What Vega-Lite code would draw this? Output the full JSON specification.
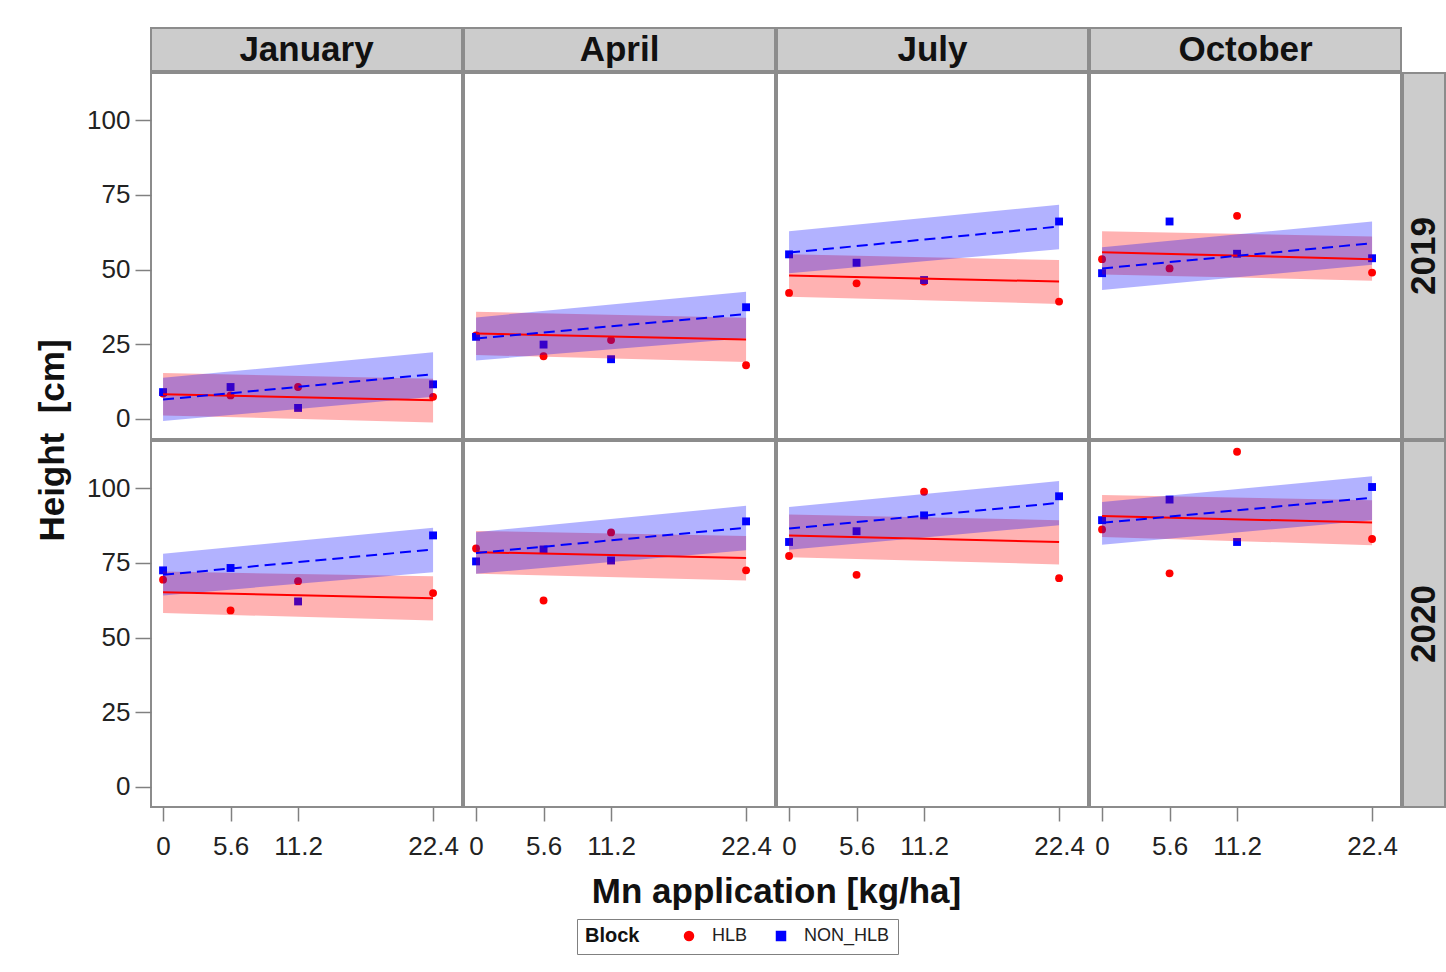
{
  "$schema": "https://vega.github.io/schema/vega-lite/v6.json",
  "background": "white",
  "padding": {"left": 34, "top": 27, "right": 0, "bottom": 3},
  "config": {
    "font": "Liberation Sans",
    "axis": {
      "grid": false,
      "domain": false,
      "tickColor": "#808080",
      "tickWidth": 1.5,
      "labelColor": "#222222",
      "labelFontSize": 26,
      "labelFontWeight": "normal",
      "titleColor": "#111111",
      "titleFontSize": 35,
      "titleFontWeight": "bold",
      "labelOverlap": false,
      "labelFlush": false,
      "labelBound": false
    },
    "legend": {
      "titleOrient": "left",
      "titleFontSize": 20,
      "titleFontWeight": "bold",
      "titleColor": "#111111",
      "titlePadding": 40,
      "labelFontSize": 18,
      "labelColor": "#222222",
      "labelOffset": 14,
      "columnPadding": 24,
      "symbolSize": 110,
      "strokeColor": "#808080",
      "padding": 8
    }
  },
  "datasets": {
    "strips": [
      {"label": "January"}, {"label": "April"}, {"label": "July"}, {"label": "October"},
      {"label": "2019"}, {"label": "2020"}
    ],
    "rows": [
      {"year": 2019, "month": "January", "kind": "obs", "block": "HLB", "mn": 0, "height": 8.5},
      {"year": 2019, "month": "January", "kind": "obs", "block": "HLB", "mn": 5.6, "height": 7.9},
      {"year": 2019, "month": "January", "kind": "obs", "block": "HLB", "mn": 11.2, "height": 10.7},
      {"year": 2019, "month": "January", "kind": "obs", "block": "HLB", "mn": 22.4, "height": 7.4},
      {"year": 2019, "month": "January", "kind": "obs", "block": "NON_HLB", "mn": 0, "height": 9.0},
      {"year": 2019, "month": "January", "kind": "obs", "block": "NON_HLB", "mn": 5.6, "height": 10.7},
      {"year": 2019, "month": "January", "kind": "obs", "block": "NON_HLB", "mn": 11.2, "height": 3.7},
      {"year": 2019, "month": "January", "kind": "obs", "block": "NON_HLB", "mn": 22.4, "height": 11.6},
      {"year": 2019, "month": "April", "kind": "obs", "block": "HLB", "mn": 0, "height": 28.0},
      {"year": 2019, "month": "April", "kind": "obs", "block": "HLB", "mn": 5.6, "height": 21.0},
      {"year": 2019, "month": "April", "kind": "obs", "block": "HLB", "mn": 11.2, "height": 26.4},
      {"year": 2019, "month": "April", "kind": "obs", "block": "HLB", "mn": 22.4, "height": 18.0},
      {"year": 2019, "month": "April", "kind": "obs", "block": "NON_HLB", "mn": 0, "height": 27.5},
      {"year": 2019, "month": "April", "kind": "obs", "block": "NON_HLB", "mn": 5.6, "height": 24.9},
      {"year": 2019, "month": "April", "kind": "obs", "block": "NON_HLB", "mn": 11.2, "height": 20.0},
      {"year": 2019, "month": "April", "kind": "obs", "block": "NON_HLB", "mn": 22.4, "height": 37.4},
      {"year": 2019, "month": "July", "kind": "obs", "block": "HLB", "mn": 0, "height": 42.2},
      {"year": 2019, "month": "July", "kind": "obs", "block": "HLB", "mn": 5.6, "height": 45.4},
      {"year": 2019, "month": "July", "kind": "obs", "block": "HLB", "mn": 11.2, "height": 46.0},
      {"year": 2019, "month": "July", "kind": "obs", "block": "HLB", "mn": 22.4, "height": 39.3},
      {"year": 2019, "month": "July", "kind": "obs", "block": "NON_HLB", "mn": 0, "height": 55.1},
      {"year": 2019, "month": "July", "kind": "obs", "block": "NON_HLB", "mn": 5.6, "height": 52.3},
      {"year": 2019, "month": "July", "kind": "obs", "block": "NON_HLB", "mn": 11.2, "height": 46.5},
      {"year": 2019, "month": "July", "kind": "obs", "block": "NON_HLB", "mn": 22.4, "height": 66.1},
      {"year": 2019, "month": "October", "kind": "obs", "block": "HLB", "mn": 0, "height": 53.5},
      {"year": 2019, "month": "October", "kind": "obs", "block": "HLB", "mn": 5.6, "height": 50.4},
      {"year": 2019, "month": "October", "kind": "obs", "block": "HLB", "mn": 11.2, "height": 68.0},
      {"year": 2019, "month": "October", "kind": "obs", "block": "HLB", "mn": 22.4, "height": 49.0},
      {"year": 2019, "month": "October", "kind": "obs", "block": "NON_HLB", "mn": 0, "height": 48.8},
      {"year": 2019, "month": "October", "kind": "obs", "block": "NON_HLB", "mn": 5.6, "height": 66.1},
      {"year": 2019, "month": "October", "kind": "obs", "block": "NON_HLB", "mn": 11.2, "height": 55.3},
      {"year": 2019, "month": "October", "kind": "obs", "block": "NON_HLB", "mn": 22.4, "height": 53.8},
      {"year": 2020, "month": "January", "kind": "obs", "block": "HLB", "mn": 0, "height": 69.4},
      {"year": 2020, "month": "January", "kind": "obs", "block": "HLB", "mn": 5.6, "height": 59.1},
      {"year": 2020, "month": "January", "kind": "obs", "block": "HLB", "mn": 11.2, "height": 68.9},
      {"year": 2020, "month": "January", "kind": "obs", "block": "HLB", "mn": 22.4, "height": 64.9},
      {"year": 2020, "month": "January", "kind": "obs", "block": "NON_HLB", "mn": 0, "height": 72.5},
      {"year": 2020, "month": "January", "kind": "obs", "block": "NON_HLB", "mn": 5.6, "height": 73.3},
      {"year": 2020, "month": "January", "kind": "obs", "block": "NON_HLB", "mn": 11.2, "height": 62.1},
      {"year": 2020, "month": "January", "kind": "obs", "block": "NON_HLB", "mn": 22.4, "height": 84.2},
      {"year": 2020, "month": "April", "kind": "obs", "block": "HLB", "mn": 0, "height": 79.8},
      {"year": 2020, "month": "April", "kind": "obs", "block": "HLB", "mn": 5.6, "height": 62.4},
      {"year": 2020, "month": "April", "kind": "obs", "block": "HLB", "mn": 11.2, "height": 85.2},
      {"year": 2020, "month": "April", "kind": "obs", "block": "HLB", "mn": 22.4, "height": 72.5},
      {"year": 2020, "month": "April", "kind": "obs", "block": "NON_HLB", "mn": 0, "height": 75.5},
      {"year": 2020, "month": "April", "kind": "obs", "block": "NON_HLB", "mn": 5.6, "height": 79.5},
      {"year": 2020, "month": "April", "kind": "obs", "block": "NON_HLB", "mn": 11.2, "height": 75.8},
      {"year": 2020, "month": "April", "kind": "obs", "block": "NON_HLB", "mn": 22.4, "height": 88.9},
      {"year": 2020, "month": "July", "kind": "obs", "block": "HLB", "mn": 0, "height": 77.3},
      {"year": 2020, "month": "July", "kind": "obs", "block": "HLB", "mn": 5.6, "height": 71.0},
      {"year": 2020, "month": "July", "kind": "obs", "block": "HLB", "mn": 11.2, "height": 98.8},
      {"year": 2020, "month": "July", "kind": "obs", "block": "HLB", "mn": 22.4, "height": 69.9},
      {"year": 2020, "month": "July", "kind": "obs", "block": "NON_HLB", "mn": 0, "height": 82.0},
      {"year": 2020, "month": "July", "kind": "obs", "block": "NON_HLB", "mn": 5.6, "height": 85.6},
      {"year": 2020, "month": "July", "kind": "obs", "block": "NON_HLB", "mn": 11.2, "height": 90.9},
      {"year": 2020, "month": "July", "kind": "obs", "block": "NON_HLB", "mn": 22.4, "height": 97.3},
      {"year": 2020, "month": "October", "kind": "obs", "block": "HLB", "mn": 0, "height": 86.2},
      {"year": 2020, "month": "October", "kind": "obs", "block": "HLB", "mn": 5.6, "height": 71.5},
      {"year": 2020, "month": "October", "kind": "obs", "block": "HLB", "mn": 11.2, "height": 112.2},
      {"year": 2020, "month": "October", "kind": "obs", "block": "HLB", "mn": 22.4, "height": 83.0},
      {"year": 2020, "month": "October", "kind": "obs", "block": "NON_HLB", "mn": 0, "height": 89.3},
      {"year": 2020, "month": "October", "kind": "obs", "block": "NON_HLB", "mn": 5.6, "height": 96.2},
      {"year": 2020, "month": "October", "kind": "obs", "block": "NON_HLB", "mn": 11.2, "height": 82.0},
      {"year": 2020, "month": "October", "kind": "obs", "block": "NON_HLB", "mn": 22.4, "height": 100.4},

      {"year": 2019, "month": "January", "kind": "fit", "block": "HLB", "mn": 0, "height": 8.3, "lower": 1.2, "upper": 15.4},
      {"year": 2019, "month": "January", "kind": "fit", "block": "HLB", "mn": 22.4, "height": 6.3, "lower": -1.2, "upper": 13.5},
      {"year": 2019, "month": "January", "kind": "fit", "block": "NON_HLB", "mn": 0, "height": 6.5, "lower": -0.7, "upper": 13.8},
      {"year": 2019, "month": "January", "kind": "fit", "block": "NON_HLB", "mn": 22.4, "height": 15.0, "lower": 7.4, "upper": 22.3},
      {"year": 2019, "month": "April", "kind": "fit", "block": "HLB", "mn": 0, "height": 28.6, "lower": 21.4, "upper": 35.9},
      {"year": 2019, "month": "April", "kind": "fit", "block": "HLB", "mn": 22.4, "height": 26.6, "lower": 19.1, "upper": 33.9},
      {"year": 2019, "month": "April", "kind": "fit", "block": "NON_HLB", "mn": 0, "height": 26.9, "lower": 19.6, "upper": 34.0},
      {"year": 2019, "month": "April", "kind": "fit", "block": "NON_HLB", "mn": 22.4, "height": 35.1, "lower": 27.0, "upper": 42.6},
      {"year": 2019, "month": "July", "kind": "fit", "block": "HLB", "mn": 0, "height": 48.0, "lower": 40.9, "upper": 55.1},
      {"year": 2019, "month": "July", "kind": "fit", "block": "HLB", "mn": 22.4, "height": 46.0, "lower": 38.5, "upper": 53.2},
      {"year": 2019, "month": "July", "kind": "fit", "block": "NON_HLB", "mn": 0, "height": 55.7, "lower": 48.8, "upper": 62.8},
      {"year": 2019, "month": "July", "kind": "fit", "block": "NON_HLB", "mn": 22.4, "height": 64.4, "lower": 56.8, "upper": 71.7},
      {"year": 2019, "month": "October", "kind": "fit", "block": "HLB", "mn": 0, "height": 55.8, "lower": 48.4, "upper": 62.8},
      {"year": 2019, "month": "October", "kind": "fit", "block": "HLB", "mn": 22.4, "height": 53.5, "lower": 46.3, "upper": 61.1},
      {"year": 2019, "month": "October", "kind": "fit", "block": "NON_HLB", "mn": 0, "height": 50.4, "lower": 43.2, "upper": 57.5},
      {"year": 2019, "month": "October", "kind": "fit", "block": "NON_HLB", "mn": 22.4, "height": 58.8, "lower": 51.6, "upper": 66.1},
      {"year": 2020, "month": "January", "kind": "fit", "block": "HLB", "mn": 0, "height": 65.2, "lower": 58.2, "upper": 72.1},
      {"year": 2020, "month": "January", "kind": "fit", "block": "HLB", "mn": 22.4, "height": 63.2, "lower": 55.7, "upper": 70.5},
      {"year": 2020, "month": "January", "kind": "fit", "block": "NON_HLB", "mn": 0, "height": 71.0, "lower": 64.1, "upper": 78.1},
      {"year": 2020, "month": "January", "kind": "fit", "block": "NON_HLB", "mn": 22.4, "height": 79.5, "lower": 71.9, "upper": 86.8},
      {"year": 2020, "month": "April", "kind": "fit", "block": "HLB", "mn": 0, "height": 78.6, "lower": 71.4, "upper": 85.7},
      {"year": 2020, "month": "April", "kind": "fit", "block": "HLB", "mn": 22.4, "height": 76.6, "lower": 69.1, "upper": 84.0},
      {"year": 2020, "month": "April", "kind": "fit", "block": "NON_HLB", "mn": 0, "height": 78.3, "lower": 71.4, "upper": 85.3},
      {"year": 2020, "month": "April", "kind": "fit", "block": "NON_HLB", "mn": 22.4, "height": 86.8, "lower": 79.2, "upper": 94.1},
      {"year": 2020, "month": "July", "kind": "fit", "block": "HLB", "mn": 0, "height": 84.2, "lower": 76.9, "upper": 91.2},
      {"year": 2020, "month": "July", "kind": "fit", "block": "HLB", "mn": 22.4, "height": 82.0, "lower": 74.5, "upper": 89.3},
      {"year": 2020, "month": "July", "kind": "fit", "block": "NON_HLB", "mn": 0, "height": 86.5, "lower": 79.4, "upper": 93.7},
      {"year": 2020, "month": "July", "kind": "fit", "block": "NON_HLB", "mn": 22.4, "height": 95.1, "lower": 87.6, "upper": 102.4},
      {"year": 2020, "month": "October", "kind": "fit", "block": "HLB", "mn": 0, "height": 90.7, "lower": 83.7, "upper": 97.7},
      {"year": 2020, "month": "October", "kind": "fit", "block": "HLB", "mn": 22.4, "height": 88.5, "lower": 80.9, "upper": 96.0},
      {"year": 2020, "month": "October", "kind": "fit", "block": "NON_HLB", "mn": 0, "height": 88.4, "lower": 81.1, "upper": 95.4},
      {"year": 2020, "month": "October", "kind": "fit", "block": "NON_HLB", "mn": 22.4, "height": 96.8, "lower": 89.3, "upper": 104.0}
    ]
  },
  "columns": 5,
  "spacing": {"row": 2, "column": 2},
  "bounds": "flush",
  "concat": [
    {"width": 311, "height": 43, "data": {"name": "strips"}, "transform": [{"filter": "datum.label == 'January'"}], "view": {"fill": "#cccccc", "stroke": "#8c8c8c", "strokeWidth": 2}, "mark": {"type": "text", "fontSize": 35, "fontWeight": "bold", "color": "#111111"}, "encoding": {"text": {"field": "label"}}},
    {"width": 311, "height": 43, "data": {"name": "strips"}, "transform": [{"filter": "datum.label == 'April'"}], "view": {"fill": "#cccccc", "stroke": "#8c8c8c", "strokeWidth": 2}, "mark": {"type": "text", "fontSize": 35, "fontWeight": "bold", "color": "#111111"}, "encoding": {"text": {"field": "label"}}},
    {"width": 311, "height": 43, "data": {"name": "strips"}, "transform": [{"filter": "datum.label == 'July'"}], "view": {"fill": "#cccccc", "stroke": "#8c8c8c", "strokeWidth": 2}, "mark": {"type": "text", "fontSize": 35, "fontWeight": "bold", "color": "#111111"}, "encoding": {"text": {"field": "label"}}},
    {"width": 311, "height": 43, "data": {"name": "strips"}, "transform": [{"filter": "datum.label == 'October'"}], "view": {"fill": "#cccccc", "stroke": "#8c8c8c", "strokeWidth": 2}, "mark": {"type": "text", "fontSize": 35, "fontWeight": "bold", "color": "#111111"}, "encoding": {"text": {"field": "label"}}},
    {"width": 42, "height": 43, "data": {"values": []}, "view": {"stroke": null}, "mark": "text"},

    {"width": 311, "height": 366, "view": {"stroke": "#8c8c8c", "strokeWidth": 2},
     "data": {"name": "rows"}, "transform": [{"filter": "datum.year == 2019 && datum.month == 'January'"}],
     "encoding": {
       "x": {"field": "mn", "type": "quantitative", "scale": {"domain": [-1, 24.8], "nice": false, "zero": false}, "axis": null},
       "y": {"field": "height", "type": "quantitative", "scale": {"domain": [-6.7, 115.8], "nice": false, "zero": false}, "axis": {"values": [0, 25, 50, 75, 100], "tickSize": 16, "labelPadding": 5, "title": "Height\u00a0 [cm]", "titleY": 367, "titlePadding": 16}}
     },
     "layer": [
       {"transform": [{"filter": "datum.kind == 'obs'"}], "mark": {"type": "point", "filled": true, "opacity": 1, "size": 62},
        "encoding": {
          "color": {"field": "block", "type": "nominal", "scale": {"domain": ["HLB", "NON_HLB"], "range": ["#ff0000", "#0000ff"]}, "legend": {"title": "Block", "orient": "none", "legendX": 426, "legendY": 891, "direction": "horizontal", "encode": {"symbols": {"update": {"size": {"value": 120}}}}}},
          "shape": {"field": "block", "type": "nominal", "scale": {"domain": ["HLB", "NON_HLB"], "range": ["circle", "square"]}, "legend": {"title": "Block", "orient": "none", "legendX": 426, "legendY": 891, "direction": "horizontal", "encode": {"symbols": {"update": {"size": {"value": 120}}}}}}}},
       {"transform": [{"filter": "datum.kind == 'fit' && datum.block == 'HLB'"}], "mark": {"type": "area", "color": "#ff0000", "opacity": 0.3}, "encoding": {"y": {"field": "lower", "type": "quantitative", "scale": {"domain": [-6.7, 115.8], "nice": false, "zero": false}, "axis": {"values": [0, 25, 50, 75, 100], "tickSize": 16, "labelPadding": 5, "title": "Height\u00a0 [cm]", "titleY": 367, "titlePadding": 16}}, "y2": {"field": "upper"}}},
       {"transform": [{"filter": "datum.kind == 'fit' && datum.block == 'NON_HLB'"}], "mark": {"type": "area", "color": "#0000ff", "opacity": 0.3}, "encoding": {"y": {"field": "lower", "type": "quantitative", "scale": {"domain": [-6.7, 115.8], "nice": false, "zero": false}, "axis": {"values": [0, 25, 50, 75, 100], "tickSize": 16, "labelPadding": 5, "title": "Height\u00a0 [cm]", "titleY": 367, "titlePadding": 16}}, "y2": {"field": "upper"}}},
       {"transform": [{"filter": "datum.kind == 'fit' && datum.block == 'HLB'"}], "mark": {"type": "line", "color": "#ff0000", "strokeWidth": 2}},
       {"transform": [{"filter": "datum.kind == 'fit' && datum.block == 'NON_HLB'"}], "mark": {"type": "line", "color": "#0000ff", "strokeWidth": 2, "strokeDash": [11, 6]}}
     ]},
    {"width": 311, "height": 366, "view": {"stroke": "#8c8c8c", "strokeWidth": 2},
     "data": {"name": "rows"}, "transform": [{"filter": "datum.year == 2019 && datum.month == 'April'"}],
     "encoding": {
       "x": {"field": "mn", "type": "quantitative", "scale": {"domain": [-1, 24.8], "nice": false, "zero": false}, "axis": null},
       "y": {"field": "height", "type": "quantitative", "scale": {"domain": [-6.7, 115.8], "nice": false, "zero": false}, "axis": null}
     },
     "layer": [
       {"transform": [{"filter": "datum.kind == 'obs'"}], "mark": {"type": "point", "filled": true, "opacity": 1, "size": 62},
        "encoding": {
          "color": {"field": "block", "type": "nominal", "scale": {"domain": ["HLB", "NON_HLB"], "range": ["#ff0000", "#0000ff"]}, "legend": {"title": "Block", "orient": "none", "legendX": 426, "legendY": 891, "direction": "horizontal", "encode": {"symbols": {"update": {"size": {"value": 120}}}}}},
          "shape": {"field": "block", "type": "nominal", "scale": {"domain": ["HLB", "NON_HLB"], "range": ["circle", "square"]}, "legend": {"title": "Block", "orient": "none", "legendX": 426, "legendY": 891, "direction": "horizontal", "encode": {"symbols": {"update": {"size": {"value": 120}}}}}}}},
       {"transform": [{"filter": "datum.kind == 'fit' && datum.block == 'HLB'"}], "mark": {"type": "area", "color": "#ff0000", "opacity": 0.3}, "encoding": {"y": {"field": "lower", "type": "quantitative", "scale": {"domain": [-6.7, 115.8], "nice": false, "zero": false}, "axis": null}, "y2": {"field": "upper"}}},
       {"transform": [{"filter": "datum.kind == 'fit' && datum.block == 'NON_HLB'"}], "mark": {"type": "area", "color": "#0000ff", "opacity": 0.3}, "encoding": {"y": {"field": "lower", "type": "quantitative", "scale": {"domain": [-6.7, 115.8], "nice": false, "zero": false}, "axis": null}, "y2": {"field": "upper"}}},
       {"transform": [{"filter": "datum.kind == 'fit' && datum.block == 'HLB'"}], "mark": {"type": "line", "color": "#ff0000", "strokeWidth": 2}},
       {"transform": [{"filter": "datum.kind == 'fit' && datum.block == 'NON_HLB'"}], "mark": {"type": "line", "color": "#0000ff", "strokeWidth": 2, "strokeDash": [11, 6]}}
     ]},
    {"width": 311, "height": 366, "view": {"stroke": "#8c8c8c", "strokeWidth": 2},
     "data": {"name": "rows"}, "transform": [{"filter": "datum.year == 2019 && datum.month == 'July'"}],
     "encoding": {
       "x": {"field": "mn", "type": "quantitative", "scale": {"domain": [-1, 24.8], "nice": false, "zero": false}, "axis": null},
       "y": {"field": "height", "type": "quantitative", "scale": {"domain": [-6.7, 115.8], "nice": false, "zero": false}, "axis": null}
     },
     "layer": [
       {"transform": [{"filter": "datum.kind == 'obs'"}], "mark": {"type": "point", "filled": true, "opacity": 1, "size": 62},
        "encoding": {
          "color": {"field": "block", "type": "nominal", "scale": {"domain": ["HLB", "NON_HLB"], "range": ["#ff0000", "#0000ff"]}, "legend": {"title": "Block", "orient": "none", "legendX": 426, "legendY": 891, "direction": "horizontal", "encode": {"symbols": {"update": {"size": {"value": 120}}}}}},
          "shape": {"field": "block", "type": "nominal", "scale": {"domain": ["HLB", "NON_HLB"], "range": ["circle", "square"]}, "legend": {"title": "Block", "orient": "none", "legendX": 426, "legendY": 891, "direction": "horizontal", "encode": {"symbols": {"update": {"size": {"value": 120}}}}}}}},
       {"transform": [{"filter": "datum.kind == 'fit' && datum.block == 'HLB'"}], "mark": {"type": "area", "color": "#ff0000", "opacity": 0.3}, "encoding": {"y": {"field": "lower", "type": "quantitative", "scale": {"domain": [-6.7, 115.8], "nice": false, "zero": false}, "axis": null}, "y2": {"field": "upper"}}},
       {"transform": [{"filter": "datum.kind == 'fit' && datum.block == 'NON_HLB'"}], "mark": {"type": "area", "color": "#0000ff", "opacity": 0.3}, "encoding": {"y": {"field": "lower", "type": "quantitative", "scale": {"domain": [-6.7, 115.8], "nice": false, "zero": false}, "axis": null}, "y2": {"field": "upper"}}},
       {"transform": [{"filter": "datum.kind == 'fit' && datum.block == 'HLB'"}], "mark": {"type": "line", "color": "#ff0000", "strokeWidth": 2}},
       {"transform": [{"filter": "datum.kind == 'fit' && datum.block == 'NON_HLB'"}], "mark": {"type": "line", "color": "#0000ff", "strokeWidth": 2, "strokeDash": [11, 6]}}
     ]},
    {"width": 311, "height": 366, "view": {"stroke": "#8c8c8c", "strokeWidth": 2},
     "data": {"name": "rows"}, "transform": [{"filter": "datum.year == 2019 && datum.month == 'October'"}],
     "encoding": {
       "x": {"field": "mn", "type": "quantitative", "scale": {"domain": [-1, 24.8], "nice": false, "zero": false}, "axis": null},
       "y": {"field": "height", "type": "quantitative", "scale": {"domain": [-6.7, 115.8], "nice": false, "zero": false}, "axis": null}
     },
     "layer": [
       {"transform": [{"filter": "datum.kind == 'obs'"}], "mark": {"type": "point", "filled": true, "opacity": 1, "size": 62},
        "encoding": {
          "color": {"field": "block", "type": "nominal", "scale": {"domain": ["HLB", "NON_HLB"], "range": ["#ff0000", "#0000ff"]}, "legend": {"title": "Block", "orient": "none", "legendX": 426, "legendY": 891, "direction": "horizontal", "encode": {"symbols": {"update": {"size": {"value": 120}}}}}},
          "shape": {"field": "block", "type": "nominal", "scale": {"domain": ["HLB", "NON_HLB"], "range": ["circle", "square"]}, "legend": {"title": "Block", "orient": "none", "legendX": 426, "legendY": 891, "direction": "horizontal", "encode": {"symbols": {"update": {"size": {"value": 120}}}}}}}},
       {"transform": [{"filter": "datum.kind == 'fit' && datum.block == 'HLB'"}], "mark": {"type": "area", "color": "#ff0000", "opacity": 0.3}, "encoding": {"y": {"field": "lower", "type": "quantitative", "scale": {"domain": [-6.7, 115.8], "nice": false, "zero": false}, "axis": null}, "y2": {"field": "upper"}}},
       {"transform": [{"filter": "datum.kind == 'fit' && datum.block == 'NON_HLB'"}], "mark": {"type": "area", "color": "#0000ff", "opacity": 0.3}, "encoding": {"y": {"field": "lower", "type": "quantitative", "scale": {"domain": [-6.7, 115.8], "nice": false, "zero": false}, "axis": null}, "y2": {"field": "upper"}}},
       {"transform": [{"filter": "datum.kind == 'fit' && datum.block == 'HLB'"}], "mark": {"type": "line", "color": "#ff0000", "strokeWidth": 2}},
       {"transform": [{"filter": "datum.kind == 'fit' && datum.block == 'NON_HLB'"}], "mark": {"type": "line", "color": "#0000ff", "strokeWidth": 2, "strokeDash": [11, 6]}}
     ]},
    {"width": 42, "height": 366, "data": {"name": "strips"}, "transform": [{"filter": "datum.label == '2019'"}], "view": {"fill": "#cccccc", "stroke": "#8c8c8c", "strokeWidth": 2}, "mark": {"type": "text", "angle": 270, "fontSize": 35, "fontWeight": "bold", "color": "#111111"}, "encoding": {"text": {"field": "label"}}},

    {"width": 311, "height": 366, "view": {"stroke": "#8c8c8c", "strokeWidth": 2},
     "data": {"name": "rows"}, "transform": [{"filter": "datum.year == 2020 && datum.month == 'January'"}],
     "encoding": {
       "x": {"field": "mn", "type": "quantitative", "scale": {"domain": [-1, 24.8], "nice": false, "zero": false}, "axis": {"values": [0, 5.6, 11.2, 22.4], "format": ".1~f", "tickSize": 14, "labelPadding": 12, "title": null}},
       "y": {"field": "height", "type": "quantitative", "scale": {"domain": [-6.7, 115.8], "nice": false, "zero": false}, "axis": {"values": [0, 25, 50, 75, 100], "tickSize": 16, "labelPadding": 5, "title": null}}
     },
     "layer": [
       {"transform": [{"filter": "datum.kind == 'obs'"}], "mark": {"type": "point", "filled": true, "opacity": 1, "size": 62},
        "encoding": {
          "color": {"field": "block", "type": "nominal", "scale": {"domain": ["HLB", "NON_HLB"], "range": ["#ff0000", "#0000ff"]}, "legend": {"title": "Block", "orient": "none", "legendX": 426, "legendY": 891, "direction": "horizontal", "encode": {"symbols": {"update": {"size": {"value": 120}}}}}},
          "shape": {"field": "block", "type": "nominal", "scale": {"domain": ["HLB", "NON_HLB"], "range": ["circle", "square"]}, "legend": {"title": "Block", "orient": "none", "legendX": 426, "legendY": 891, "direction": "horizontal", "encode": {"symbols": {"update": {"size": {"value": 120}}}}}}}},
       {"transform": [{"filter": "datum.kind == 'fit' && datum.block == 'HLB'"}], "mark": {"type": "area", "color": "#ff0000", "opacity": 0.3}, "encoding": {"y": {"field": "lower", "type": "quantitative", "scale": {"domain": [-6.7, 115.8], "nice": false, "zero": false}, "axis": {"values": [0, 25, 50, 75, 100], "tickSize": 16, "labelPadding": 5, "title": null}}, "y2": {"field": "upper"}}},
       {"transform": [{"filter": "datum.kind == 'fit' && datum.block == 'NON_HLB'"}], "mark": {"type": "area", "color": "#0000ff", "opacity": 0.3}, "encoding": {"y": {"field": "lower", "type": "quantitative", "scale": {"domain": [-6.7, 115.8], "nice": false, "zero": false}, "axis": {"values": [0, 25, 50, 75, 100], "tickSize": 16, "labelPadding": 5, "title": null}}, "y2": {"field": "upper"}}},
       {"transform": [{"filter": "datum.kind == 'fit' && datum.block == 'HLB'"}], "mark": {"type": "line", "color": "#ff0000", "strokeWidth": 2}},
       {"transform": [{"filter": "datum.kind == 'fit' && datum.block == 'NON_HLB'"}], "mark": {"type": "line", "color": "#0000ff", "strokeWidth": 2, "strokeDash": [11, 6]}}
     ]},
    {"width": 311, "height": 366, "view": {"stroke": "#8c8c8c", "strokeWidth": 2},
     "data": {"name": "rows"}, "transform": [{"filter": "datum.year == 2020 && datum.month == 'April'"}],
     "encoding": {
       "x": {"field": "mn", "type": "quantitative", "scale": {"domain": [-1, 24.8], "nice": false, "zero": false}, "axis": {"values": [0, 5.6, 11.2, 22.4], "format": ".1~f", "tickSize": 14, "labelPadding": 12, "title": "Mn application [kg/ha]", "titleX": 312, "titlePadding": 15}},
       "y": {"field": "height", "type": "quantitative", "scale": {"domain": [-6.7, 115.8], "nice": false, "zero": false}, "axis": null}
     },
     "layer": [
       {"transform": [{"filter": "datum.kind == 'obs'"}], "mark": {"type": "point", "filled": true, "opacity": 1, "size": 62},
        "encoding": {
          "color": {"field": "block", "type": "nominal", "scale": {"domain": ["HLB", "NON_HLB"], "range": ["#ff0000", "#0000ff"]}, "legend": {"title": "Block", "orient": "none", "legendX": 426, "legendY": 891, "direction": "horizontal", "encode": {"symbols": {"update": {"size": {"value": 120}}}}}},
          "shape": {"field": "block", "type": "nominal", "scale": {"domain": ["HLB", "NON_HLB"], "range": ["circle", "square"]}, "legend": {"title": "Block", "orient": "none", "legendX": 426, "legendY": 891, "direction": "horizontal", "encode": {"symbols": {"update": {"size": {"value": 120}}}}}}}},
       {"transform": [{"filter": "datum.kind == 'fit' && datum.block == 'HLB'"}], "mark": {"type": "area", "color": "#ff0000", "opacity": 0.3}, "encoding": {"y": {"field": "lower", "type": "quantitative", "scale": {"domain": [-6.7, 115.8], "nice": false, "zero": false}, "axis": null}, "y2": {"field": "upper"}}},
       {"transform": [{"filter": "datum.kind == 'fit' && datum.block == 'NON_HLB'"}], "mark": {"type": "area", "color": "#0000ff", "opacity": 0.3}, "encoding": {"y": {"field": "lower", "type": "quantitative", "scale": {"domain": [-6.7, 115.8], "nice": false, "zero": false}, "axis": null}, "y2": {"field": "upper"}}},
       {"transform": [{"filter": "datum.kind == 'fit' && datum.block == 'HLB'"}], "mark": {"type": "line", "color": "#ff0000", "strokeWidth": 2}},
       {"transform": [{"filter": "datum.kind == 'fit' && datum.block == 'NON_HLB'"}], "mark": {"type": "line", "color": "#0000ff", "strokeWidth": 2, "strokeDash": [11, 6]}}
     ]},
    {"width": 311, "height": 366, "view": {"stroke": "#8c8c8c", "strokeWidth": 2},
     "data": {"name": "rows"}, "transform": [{"filter": "datum.year == 2020 && datum.month == 'July'"}],
     "encoding": {
       "x": {"field": "mn", "type": "quantitative", "scale": {"domain": [-1, 24.8], "nice": false, "zero": false}, "axis": {"values": [0, 5.6, 11.2, 22.4], "format": ".1~f", "tickSize": 14, "labelPadding": 12, "title": null}},
       "y": {"field": "height", "type": "quantitative", "scale": {"domain": [-6.7, 115.8], "nice": false, "zero": false}, "axis": null}
     },
     "layer": [
       {"transform": [{"filter": "datum.kind == 'obs'"}], "mark": {"type": "point", "filled": true, "opacity": 1, "size": 62},
        "encoding": {
          "color": {"field": "block", "type": "nominal", "scale": {"domain": ["HLB", "NON_HLB"], "range": ["#ff0000", "#0000ff"]}, "legend": {"title": "Block", "orient": "none", "legendX": 426, "legendY": 891, "direction": "horizontal", "encode": {"symbols": {"update": {"size": {"value": 120}}}}}},
          "shape": {"field": "block", "type": "nominal", "scale": {"domain": ["HLB", "NON_HLB"], "range": ["circle", "square"]}, "legend": {"title": "Block", "orient": "none", "legendX": 426, "legendY": 891, "direction": "horizontal", "encode": {"symbols": {"update": {"size": {"value": 120}}}}}}}},
       {"transform": [{"filter": "datum.kind == 'fit' && datum.block == 'HLB'"}], "mark": {"type": "area", "color": "#ff0000", "opacity": 0.3}, "encoding": {"y": {"field": "lower", "type": "quantitative", "scale": {"domain": [-6.7, 115.8], "nice": false, "zero": false}, "axis": null}, "y2": {"field": "upper"}}},
       {"transform": [{"filter": "datum.kind == 'fit' && datum.block == 'NON_HLB'"}], "mark": {"type": "area", "color": "#0000ff", "opacity": 0.3}, "encoding": {"y": {"field": "lower", "type": "quantitative", "scale": {"domain": [-6.7, 115.8], "nice": false, "zero": false}, "axis": null}, "y2": {"field": "upper"}}},
       {"transform": [{"filter": "datum.kind == 'fit' && datum.block == 'HLB'"}], "mark": {"type": "line", "color": "#ff0000", "strokeWidth": 2}},
       {"transform": [{"filter": "datum.kind == 'fit' && datum.block == 'NON_HLB'"}], "mark": {"type": "line", "color": "#0000ff", "strokeWidth": 2, "strokeDash": [11, 6]}}
     ]},
    {"width": 311, "height": 366, "view": {"stroke": "#8c8c8c", "strokeWidth": 2},
     "data": {"name": "rows"}, "transform": [{"filter": "datum.year == 2020 && datum.month == 'October'"}],
     "encoding": {
       "x": {"field": "mn", "type": "quantitative", "scale": {"domain": [-1, 24.8], "nice": false, "zero": false}, "axis": {"values": [0, 5.6, 11.2, 22.4], "format": ".1~f", "tickSize": 14, "labelPadding": 12, "title": null}},
       "y": {"field": "height", "type": "quantitative", "scale": {"domain": [-6.7, 115.8], "nice": false, "zero": false}, "axis": null}
     },
     "layer": [
       {"transform": [{"filter": "datum.kind == 'obs'"}], "mark": {"type": "point", "filled": true, "opacity": 1, "size": 62},
        "encoding": {
          "color": {"field": "block", "type": "nominal", "scale": {"domain": ["HLB", "NON_HLB"], "range": ["#ff0000", "#0000ff"]}, "legend": {"title": "Block", "orient": "none", "legendX": 426, "legendY": 891, "direction": "horizontal", "encode": {"symbols": {"update": {"size": {"value": 120}}}}}},
          "shape": {"field": "block", "type": "nominal", "scale": {"domain": ["HLB", "NON_HLB"], "range": ["circle", "square"]}, "legend": {"title": "Block", "orient": "none", "legendX": 426, "legendY": 891, "direction": "horizontal", "encode": {"symbols": {"update": {"size": {"value": 120}}}}}}}},
       {"transform": [{"filter": "datum.kind == 'fit' && datum.block == 'HLB'"}], "mark": {"type": "area", "color": "#ff0000", "opacity": 0.3}, "encoding": {"y": {"field": "lower", "type": "quantitative", "scale": {"domain": [-6.7, 115.8], "nice": false, "zero": false}, "axis": null}, "y2": {"field": "upper"}}},
       {"transform": [{"filter": "datum.kind == 'fit' && datum.block == 'NON_HLB'"}], "mark": {"type": "area", "color": "#0000ff", "opacity": 0.3}, "encoding": {"y": {"field": "lower", "type": "quantitative", "scale": {"domain": [-6.7, 115.8], "nice": false, "zero": false}, "axis": null}, "y2": {"field": "upper"}}},
       {"transform": [{"filter": "datum.kind == 'fit' && datum.block == 'HLB'"}], "mark": {"type": "line", "color": "#ff0000", "strokeWidth": 2}},
       {"transform": [{"filter": "datum.kind == 'fit' && datum.block == 'NON_HLB'"}], "mark": {"type": "line", "color": "#0000ff", "strokeWidth": 2, "strokeDash": [11, 6]}}
     ]},
    {"width": 42, "height": 366, "data": {"name": "strips"}, "transform": [{"filter": "datum.label == '2020'"}], "view": {"fill": "#cccccc", "stroke": "#8c8c8c", "strokeWidth": 2}, "mark": {"type": "text", "angle": 270, "fontSize": 35, "fontWeight": "bold", "color": "#111111"}, "encoding": {"text": {"field": "label"}}}
  ]
}
